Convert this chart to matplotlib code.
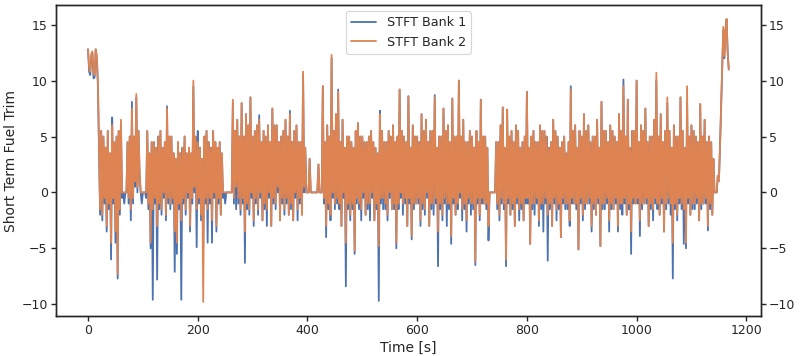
import numpy as np
import matplotlib
matplotlib.use('Agg')
import matplotlib.pyplot as plt
import seaborn as sns

# values, one every 2 s
step = 2

bank2 = [
    12.8, 11.2, 10.8, 12.4, 12.6, 10.6, 10.5, 12.8, 12.2, 10.0, 4.5, -1.5, 5.5, -2.0, 5.0, -0.5, 4.0, -3.0, 5.5, -1.0,
    3.5, -4.5, 6.0, -0.5, 4.5, -3.5, 5.0, -7.3, 5.5, -1.5, 6.5, 0.0, 0, 0, 0, 0, 4.5, -0.5, 5.0, -1.5,
    7.5, -0.5, 5.0, 1.0, 8.8, 0.5, 5.5, 2.0, 0, 0, 0, 0, 0, 0, 5.5, -1.0, 3.5, -4.5, 4.5, -1.5,
    4.5, -0.5, 4.0, -3.0, 5.0, -1.0, 5.5, -1.5, 4.0, 0.0, 4.5, -2.0, 7.5, -0.5, 5.0, -1.0, 5.0, -0.5, 3.5, -3.5,
    3.0, -4.5, 4.5, -1.0, 3.5, -2.5, 4.0, -0.5, 5.0, -1.5, 3.5, 0.0, 4.0, -3.0, 3.5, -0.5, 10.0, 0.5, 5.0, -1.5,
    4.5, -0.5, 4.0, -2.0, 3.0, -9.8, 5.0, -0.5, 5.5, -1.5, 4.5, -0.5, 4.0, -2.5, 5.5, 0.0, 4.5, -3.0, 4.0, -0.5,
    4.5, -2.0, 3.5, 0.0, 0, 0, 0, 0, 0, 0, 0, 0, 8.3, -0.5, 5.5, 0.5, 6.5, -0.5, 5.0, -1.5,
    8.0, -0.5, 5.0, -3.5, 7.0, -1.0, 6.0, -1.5, 8.5, 0.0, 5.0, -2.5, 5.5, -0.5, 6.0, -1.5, 6.5, 0.0, 4.5, -2.5,
    5.5, -1.0, 5.0, -1.5, 6.0, 0.0, 4.5, -3.0, 7.5, -0.5, 6.0, -1.0, 6.0, 0.5, 4.5, -2.5, 5.0, -0.5, 5.5, -1.5,
    6.5, -0.5, 5.0, -2.0, 7.0, -1.0, 4.5, -2.5, 5.5, 0.0, 6.0, -1.5, 4.5, -0.5, 4.5, -2.0, 10.8, 0.5, 4.0, 0,
    0, 0, 3.0, 0, 0, 0, 0, 0, 0, 0, 2.5, 0, 0, 0, 9.5, -0.5, 4.5, -3.0, 6.0, -1.0,
    5.0, -2.0, 12.3, 0.0, 5.5, -1.0, 7.0, -0.5, 9.0, -1.0, 4.5, -3.0, 6.5, 0.0, 4.0, -4.5, 5.0, -1.0, 5.0, -2.0,
    4.5, -1.0, 4.0, -5.2, 5.5, -0.5, 6.2, -1.0, 5.0, -1.5, 5.0, 0.0, 4.5, -2.0, 4.5, -1.0, 5.0, -1.0, 5.5, 0.0,
    4.5, -2.5, 4.0, -1.0, 3.5, -4.8, 7.0, -0.5, 5.5, -0.5, 4.5, -1.0, 4.5, -2.0, 5.5, 0.0, 5.0, -1.5, 6.0, -1.0,
    4.5, -4.5, 5.0, -1.0, 9.2, 0.0, 5.5, -1.0, 5.0, -0.5, 4.5, -3.0, 8.6, -0.5, 4.0, -3.9, 6.0, -1.0, 5.0, -1.0,
    5.0, -0.5, 4.5, -2.5, 7.0, -1.0, 5.5, -1.5, 6.5, 0.0, 4.5, -3.0, 5.5, -1.0, 5.5, -1.0, 8.5, -0.5, 4.0, -3.5,
    5.0, -1.0, 5.0, -2.0, 7.5, -0.5, 5.5, -1.0, 6.0, -1.0, 4.5, -3.9, 8.4, -0.5, 5.0, -2.0, 5.0, -1.0, 10.0, 0.0,
    5.0, -1.5, 6.5, -1.0, 4.5, -2.5, 4.5, -0.5, 5.5, -1.0, 5.0, -1.0, 4.0, -6.2, 5.5, -0.5, 4.5, -2.0, 8.3, -0.5,
    5.0, -1.0, 5.0, -1.0, 4.0, -3.0, 0, 0, 0, 0, 0, 0, 4.5, -1.0, 4.5, -2.0, 6.0, -0.5, 7.6, -1.0,
    4.0, -6.0, 7.4, -0.5, 5.0, -2.0, 5.5, -1.0, 4.5, -3.0, 6.0, -0.5, 5.5, -1.5, 4.0, -1.0, 4.5, -2.5, 5.0, -0.5,
    9.0, -0.5, 4.0, -4.6, 5.0, -1.0, 5.5, -1.0, 4.5, -0.5, 4.5, -2.5, 6.0, -1.0, 5.5, -1.0, 5.5, -0.5, 5.0, -2.0,
    4.0, -1.0, 4.5, -3.0, 6.5, -0.5, 5.5, -1.5, 5.0, -1.0, 4.0, -4.0, 4.5, -0.5, 5.0, -1.0, 3.5, -1.0, 4.5, -2.5,
    9.2, -0.5, 5.5, -1.0, 6.0, -1.0, 4.0, -5.1, 5.5, -0.5, 5.0, -2.0, 7.0, -1.0, 5.5, -1.0, 6.0, -0.5, 4.5, -3.0,
    5.0, -1.0, 5.0, -2.0, 6.5, -0.5, 4.0, -4.8, 8.1, -1.0, 5.5, -1.0, 5.5, -0.5, 4.5, -2.5, 6.0, -1.0, 5.5, -1.5,
    5.0, -0.5, 4.5, -3.0, 7.0, -1.0, 5.5, -1.0, 9.5, -0.5, 5.0, -2.0, 8.3, -1.0, 4.0, -3.5, 5.5, -0.5, 5.5, -1.0,
    10.0, -0.5, 4.5, -2.5, 6.0, -1.0, 5.5, -1.0, 7.5, -0.5, 4.5, -3.0, 5.0, -1.0, 5.0, -1.5, 6.5, -0.5, 10.7, -1.0,
    5.0, -2.0, 7.0, -0.5, 4.5, -3.5, 5.5, -1.0, 8.5, -0.5, 5.5, -1.0, 4.0, -4.5, 6.0, -1.0, 5.0, -2.0, 5.0, -0.5,
    8.5, -1.0, 5.5, -1.5, 4.0, -4.5, 9.5, -0.5, 5.0, -2.0, 6.0, -1.0, 5.5, -1.0, 5.0, -0.5, 4.5, -2.5, 7.9, -1.0,
    5.0, -1.0, 6.5, -0.5, 4.5, -3.0, 5.0, -1.0, 4.5, -2.0, 3.0, 0.0, 0, 0, 1.5, 1.0, 4.0, 7.5, 11.0, 14.8,
    12.2, 14.5, 15.5, 12.5, 11.0,
]

bank1 = [
    12.8, 10.8, 10.5, 12.2, 12.4, 10.2, 10.3, 12.8, 12.0, 9.5, 4.0, -2.0, 5.5, -2.5, 5.0, -1.0, 4.0, -3.5, 5.5, -1.5,
    3.5, -6.0, 6.7, -1.0, 4.5, -4.5, 5.0, -7.7, 5.5, -2.0, 6.0, -0.5, 0, -1.0, 0, 0, 4.5, -1.0, 5.0, -2.5,
    8.1, -1.0, 5.0, 0.5, 8.5, 0.0, 5.5, 1.5, 0, -1.0, 0, 0, 0, -0.5, 5.5, -1.5, 3.5, -5.0, 4.5, -9.6,
    4.5, -1.0, 4.0, -7.8, 5.0, -1.5, 5.5, -2.0, 4.0, -0.5, 4.5, -2.5, 7.7, -1.0, 5.0, -1.5, 5.0, -1.0, 3.5, -7.1,
    3.0, -5.5, 4.5, -1.5, 3.5, -9.6, 4.0, -1.0, 5.0, -2.0, 3.5, -0.5, 4.0, -3.5, 3.5, -1.0, 9.5, 0.0, 5.0, -4.9,
    5.5, -1.0, 4.0, -2.5, 3.0, -5.0, 5.0, -1.0, 5.5, -4.5, 4.5, -1.0, 4.0, -4.5, 5.5, -0.5, 4.5, -3.5, 4.0, -1.0,
    4.5, -2.0, 3.5, -0.5, 0, -1.0, 0, 0, 0, 0, 0, 0, 8.0, -1.0, 5.5, -1.5, 6.5, -1.0, 5.0, -2.0,
    8.0, -1.0, 5.0, -6.3, 7.0, -1.5, 6.0, -2.0, 8.5, -0.5, 5.0, -3.0, 5.5, -1.0, 6.0, -2.0, 6.9, -0.5, 4.5, -2.5,
    5.5, -1.5, 5.0, -3.0, 6.0, -0.5, 4.5, -3.0, 7.5, -1.0, 6.0, -1.5, 6.0, 0.0, 4.5, -2.5, 5.0, -1.0, 5.5, -2.0,
    6.5, -1.0, 5.0, -2.0, 7.3, -1.5, 4.5, -2.5, 5.5, -0.5, 6.0, -2.5, 4.5, -1.0, 4.5, -2.0, 10.5, 0.0, 4.0, 0,
    0, 0, 3.0, 0, 0, 0, 0, 0, 0, 0, 2.5, 0, 0, 0, 9.5, -1.0, 4.5, -4.0, 6.0, -1.5,
    5.0, -2.5, 12.0, -0.5, 5.5, -1.5, 7.0, -1.0, 9.2, -1.5, 4.5, -3.0, 6.5, -0.5, 4.0, -8.4, 5.0, -1.5, 5.0, -2.5,
    4.5, -1.5, 4.0, -5.5, 5.5, -1.0, 6.2, -1.5, 5.0, -2.5, 5.0, -0.5, 4.5, -2.0, 4.5, -1.5, 5.0, -2.5, 5.5, -0.5,
    4.5, -2.5, 4.0, -1.5, 3.5, -9.7, 7.3, -1.0, 5.5, -1.5, 4.5, -1.5, 4.5, -2.5, 5.5, -0.5, 5.0, -1.5, 6.0, -1.5,
    4.5, -5.0, 5.0, -1.5, 9.2, -0.5, 5.5, -2.0, 5.0, -1.0, 4.5, -3.0, 8.6, -1.0, 4.0, -4.2, 6.0, -1.5, 5.0, -1.0,
    5.0, -1.0, 4.5, -3.0, 7.0, -1.5, 5.5, -2.0, 6.5, -0.5, 4.5, -3.0, 5.5, -1.5, 5.5, -2.0, 8.7, -1.0, 4.0, -6.6,
    5.0, -1.5, 5.0, -2.5, 7.5, -1.0, 5.5, -3.0, 6.0, -1.5, 4.5, -4.6, 8.4, -1.0, 5.0, -2.0, 5.0, -1.5, 10.0, -0.5,
    5.0, -2.5, 6.5, -1.5, 4.5, -3.5, 4.5, -1.0, 5.5, -2.0, 5.0, -1.5, 4.0, -6.5, 5.5, -1.0, 4.5, -2.5, 8.3, -1.0,
    5.0, -1.0, 5.0, -1.5, 4.0, -4.3, 0, 0, 0, 0, 0, 0, 4.5, -1.5, 4.5, -2.5, 6.0, -1.0, 7.6, -1.5,
    4.0, -6.6, 7.4, -1.0, 5.0, -2.0, 5.5, -1.5, 4.5, -3.0, 6.0, -1.0, 5.5, -2.5, 4.0, -1.5, 4.5, -2.5, 5.0, -1.0,
    9.0, -1.0, 4.0, -4.6, 5.0, -1.5, 5.5, -2.0, 4.5, -1.0, 4.5, -3.0, 6.0, -1.5, 5.5, -3.5, 5.5, -1.0, 5.0, -6.1,
    4.0, -1.5, 4.5, -3.0, 6.5, -1.0, 5.5, -2.5, 5.0, -1.5, 4.0, -4.0, 4.5, -1.0, 5.0, -1.5, 3.5, -1.5, 4.5, -3.0,
    9.5, -1.0, 5.5, -1.0, 6.0, -1.5, 4.0, -5.1, 5.5, -1.0, 5.0, -2.5, 7.0, -1.5, 5.5, -1.0, 6.0, -1.0, 4.5, -3.5,
    5.0, -1.5, 5.0, -2.0, 6.5, -1.0, 4.0, -4.8, 8.1, -1.5, 5.5, -1.5, 5.5, -1.0, 4.5, -3.5, 6.0, -1.5, 5.5, -1.5,
    5.0, -1.0, 4.5, -3.5, 7.0, -1.5, 5.5, -2.0, 10.1, -1.0, 5.0, -2.0, 8.3, -1.5, 4.0, -5.5, 5.5, -1.0, 5.5, -1.0,
    10.0, -1.0, 4.5, -3.9, 6.0, -1.5, 5.5, -1.0, 7.5, -1.0, 4.5, -3.0, 5.0, -1.5, 5.0, -2.5, 6.5, -1.0, 10.0, -1.5,
    5.0, -2.0, 7.0, -1.0, 4.5, -3.5, 5.5, -1.5, 8.0, -1.0, 5.5, -2.0, 4.0, -7.7, 6.0, -1.5, 5.0, -2.5, 5.0, -1.0,
    8.5, -1.5, 5.5, -4.6, 4.0, -5.0, 8.1, -1.0, 5.0, -2.0, 6.0, -1.5, 5.5, -1.5, 5.0, -1.0, 4.5, -2.5, 7.9, -1.5,
    5.0, -1.0, 6.5, -1.0, 4.5, -3.4, 5.0, -1.5, 4.5, -2.0, 3.0, 0.0, 0, 0, 1.5, 1.0, 4.0, 7.5, 11.0, 14.5,
    12.0, 14.5, 15.5, 12.5, 11.0,
]

t1 = np.arange(len(bank1)) * step
t2 = np.arange(len(bank2)) * step

sns.set_theme(style='ticks', context='paper')
plt.rcParams['xtick.labelsize'] = 9
plt.rcParams['ytick.labelsize'] = 9
plt.rcParams['axes.labelsize'] = 10
plt.rcParams['legend.fontsize'] = 9.2
plt.rcParams['xtick.major.size'] = 3.5
plt.rcParams['ytick.major.size'] = 3.5
plt.rcParams['xtick.major.pad'] = 2.5
plt.rcParams['ytick.major.pad'] = 2.5
plt.rcParams['axes.labelpad'] = 2.5

fig, ax = plt.subplots(figsize=(8, 3.56), dpi=100)
fig.subplots_adjust(left=0.07, right=0.951, bottom=0.112, top=0.986)

ax.plot(t1, bank1, label='STFT Bank 1', lw=1.3)
ax.plot(t2, bank2, label='STFT Bank 2', lw=1.3)
ax.set_xlabel('Time [s]')
ax.set_ylabel('Short Term Fuel Trim')
ax.set_xticks([0, 200, 400, 600, 800, 1000, 1200])
ax.set_yticks([-10, -5, 0, 5, 10, 15])
ax.legend(loc='upper center')

ax2 = ax.twinx()
ax2.set_ylim(ax.get_ylim())
ax2.set_yticks([-10, -5, 0, 5, 10, 15])

fig.savefig('out.png')
